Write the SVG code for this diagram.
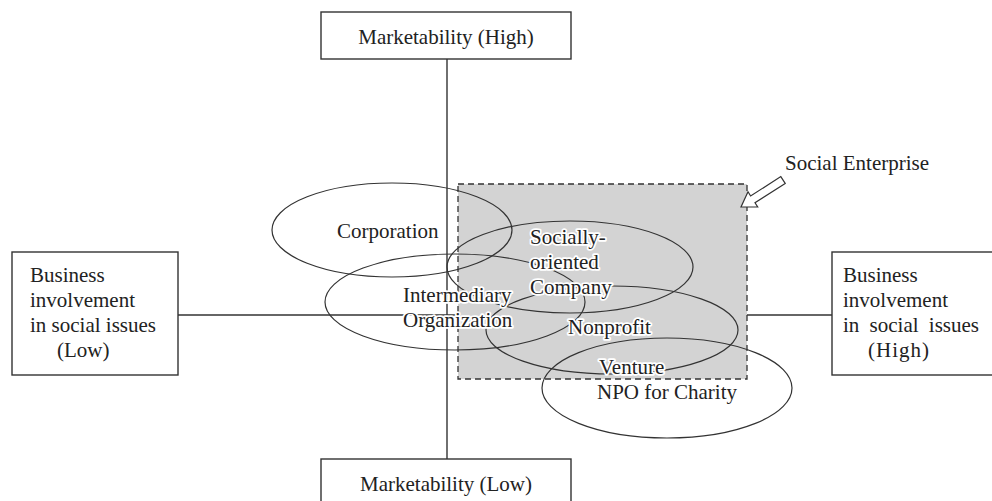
<svg xmlns="http://www.w3.org/2000/svg" width="992" height="501" viewBox="0 0 992 501">
<style>
.box{fill:#fff;stroke:#333;stroke-width:1.4}
.ax{stroke:#333;stroke-width:1.4;fill:none}
.el{fill:none;stroke:#333;stroke-width:1.2}
text{font-family:"Liberation Serif","Times New Roman",serif;font-size:21px;fill:#222}
.lbl{stroke:#fff;stroke-width:3.5;paint-order:stroke;stroke-linejoin:round}
</style>
<rect width="992" height="501" fill="#fff"/>
<g id="axes" class="connectors">
<line class="ax" x1="447" y1="59" x2="447" y2="459"/>
<line class="ax" x1="178" y1="315" x2="832" y2="315"/>
</g>
<g id="social-enterprise">
<rect x="458" y="184" width="289" height="195" fill="#d3d3d3" stroke="#333" stroke-width="1.3" stroke-dasharray="6,4"/>
<polygon points="785.2,183.4 755,202.8 757.7,207 741,207 748,191.8 750.6,196 780.8,176.6" fill="#fff" stroke="#333" stroke-width="1.2"/>
<text x="785" y="170">Social Enterprise</text>
</g>
<g id="ellipses">
<ellipse id="corporation" class="el" cx="392" cy="230" rx="120" ry="47"/>
<ellipse id="intermediary" class="el" cx="455" cy="302" rx="130" ry="48"/>
<ellipse id="socially" class="el" cx="570" cy="267" rx="123" ry="46"/>
<ellipse id="nonprofit" class="el" cx="612" cy="330" rx="126" ry="44"/>
<ellipse id="venture" class="el" cx="667" cy="388" rx="125" ry="50"/>
</g>
<g id="labels">
<text class="lbl" x="337" y="238">Corporation</text>
<text class="lbl" x="530" y="244">Socially-</text>
<text class="lbl" x="530" y="269">oriented</text>
<text class="lbl" x="530" y="294">Company</text>
<text class="lbl" x="403" y="302">Intermediary</text>
<text class="lbl" x="403" y="327">Organization</text>
<text class="lbl" x="568" y="334">Nonprofit</text>
<text class="lbl" x="599" y="374">Venture</text>
<text class="lbl" x="597" y="399">NPO for Charity</text>
</g>
<g id="market-high">
<rect class="box" x="321" y="12" width="250" height="47"/>
<text x="446" y="44" text-anchor="middle">Marketability (High)</text>
</g>
<g id="market-low">
<rect class="box" x="321" y="459" width="250" height="50"/>
<text x="446" y="491" text-anchor="middle">Marketability (Low)</text>
</g>
<g id="involvement-low">
<rect class="box" x="12" y="252" width="166" height="123"/>
<text x="30" y="282">Business</text>
<text x="30" y="307">involvement</text>
<text x="30" y="332">in social issues</text>
<text x="57" y="357">(Low)</text>
</g>
<g id="involvement-high">
<rect class="box" x="832" y="252" width="170" height="123"/>
<text x="843" y="282">Business</text>
<text x="843" y="307">involvement</text>
<text x="843" y="332" word-spacing="5">in social issues</text>
<text x="868" y="357" letter-spacing="1">(High)</text>
</g>
</svg>
